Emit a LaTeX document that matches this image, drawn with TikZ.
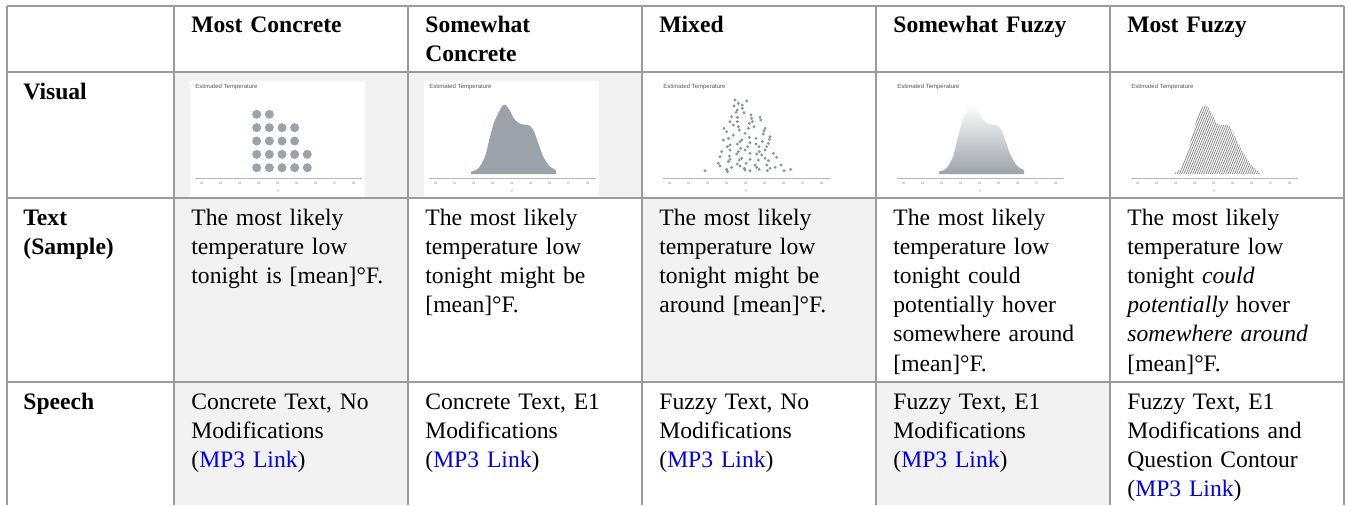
\documentclass[tikz,border=0pt]{standalone}
\usepackage{fontspec}
\setmainfont{Liberation Serif}
\newfontfamily\chartfont{Liberation Sans}
\definecolor{tableline}{HTML}{9B9B9B}
\definecolor{cellgray}{HTML}{F2F2F2}
\definecolor{dotgray}{HTML}{9CA2AA}
\definecolor{scatgray}{HTML}{8E949C}
\definecolor{charttext}{HTML}{555555}
\definecolor{ticktext}{HTML}{888888}
\definecolor{axisgray}{HTML}{B5B5B5}
\definecolor{hatchgray}{HTML}{909090}
\definecolor{linkblue}{RGB}{0,0,238}

\newcommand{\chartframe}[1]{%
  \fill[white] (#1,81) rectangle ({#1+175},197.3);
  \node[charttitle] (title#1) at ({#1+5},88) {Estimated Temperature};
  \draw[axisline] ({#1+5},178) -- ({#1+172},178);
  \foreach \k in {0,...,8}{%
    \pgfmathtruncatemacro{\lab}{30+\k}%
    \node[ticklabel] (tick#1-\k) at ({#1+11.7+19*\k},184.3) {\lab};
  }%
  \node[ticklabel] (unit#1) at ({#1+88},192.3) {°F};
}
\newcommand{\humpshape}[1]{%
  \path[#1] (47,174) -- (47,171.7) -- plot[smooth,tension=0.55] coordinates {(47,171.7) (54.3,168.3) (61,156.7) (66,136.7) (71,120) (79.3,105) (84.3,108.3) (91,120) (97.7,124.3) (104.3,125) (109.3,130) (114.3,143.3) (119.3,156.7) (126,166.7) (132,170)} -- (132,174) -- cycle;
}

\begin{document}
\begin{tikzpicture}[x=0.5pt,y=-0.5pt,
  gridline/.style={draw=tableline,line width=0.75pt},
  celltext/.style={anchor=base west,inner sep=0pt,text width=115pt,align=left,font=\fontsize{11.8}{14.6}\selectfont},
  headtext/.style={anchor=base west,inner sep=0pt,text width=115pt,align=left,font=\fontsize{11.8}{14.6}\selectfont\bfseries},
  charttitle/.style={anchor=base west,inner sep=0pt,font=\chartfont\fontsize{3}{3.6}\selectfont,text=charttext},
  ticklabel/.style={anchor=base,inner sep=0pt,font=\chartfont\fontsize{1.6}{2}\selectfont,text=ticktext},
  axisline/.style={draw=axisgray,line width=0.3pt},
  bigdot/.style={fill=dotgray},
  smalldot/.style={fill=scatgray},
  hatchline/.style={draw=hatchgray,line width=0.4pt}]
\useasboundingbox (0,0) rectangle (1348,505);

% shaded cells
\fill[cellgray] (174,72) rectangle (408,198);
\fill[cellgray] (408,72) rectangle (642,198);
\fill[cellgray] (174,198) rectangle (408,382);
\fill[cellgray] (642,198) rectangle (876,382);
\fill[cellgray] (174,382) rectangle (408,505);
\fill[cellgray] (876,382) rectangle (1110,505);

% chart frames
\chartframe{190}
\chartframe{424}
\chartframe{658}
\chartframe{892}
\chartframe{1126}

% chart 1: dot grid
\foreach \r/\n in {0/2,1/4,2/4,3/5,4/5}{
  \foreach \j in {1,...,\n}{
    \fill[bigdot] ({190+66.7+12.65*(\j-1)},{114.3+13.35*\r}) circle[radius=2.25pt];
  }
}

% chart 2: solid density
\begin{scope}[shift={(424,0)}]
  \humpshape{fill=dotgray}
\end{scope}

% chart 3: scatter
\begin{scope}[shift={(650,80)},x=0.16667pt,y=-0.16667pt]
  \foreach \px/\py in {290/63,265/70,252/78,277/75,277/85,262/90,258/97,303/105,245/110,262/112,305/115,240/125,262/125,330/112,332/120,307/125,298/130,250/135,265/140,222/145,268/150,295/145,345/145,342/152,230/155,285/160,340/162,360/170,318/175,220/180,235/175,275/180,298/172,270/185,358/178,337/185,300/188,355/190,240/195,232/200,262/192,293/200,327/200,350/200,215/215,240/210,265/215,285/210,328/215,345/210,300/220,370/220,238/228,260/222,320/222,335/225,210/230,240/238,275/235,300/238,345/235,380/232,235/245,268/240,325/240,355/242,205/250,262/252,288/250,315/255,350/255,393/255,210/258,245/262,270/258,320/262,360/265,375/262,230/268,283/265,300/272,327/268,232/275,352/272,402/272,422/268,165/272,285/270,255/60,282/98,312/140,250/165,318/192,272/205}{
    \fill[smalldot] (\px,\py) circle[radius=0.8pt];
  }
\end{scope}

% chart 4: gradient density
\begin{scope}[shift={(892,0)}]
  \humpshape{top color=white,bottom color=dotgray}
\end{scope}

% chart 5: hatched density
\begin{scope}[shift={(1126,0)}]
  \begin{scope}
    \clip (48,174) -- plot[smooth,tension=0.5] coordinates {(48,173.3) (55.7,166.7) (64,143.3) (70.7,120) (75.7,107.3) (80.7,105.7) (85.7,113.3) (90.7,123.3) (94,125) (102.3,125) (107.3,133.3) (115.7,150) (124,163.3) (130.7,170) (134,173.3)} -- (134,174) -- cycle;
    \foreach \s in {0,2.2,...,150}{
      \draw[hatchline] ({\s+10},178) -- ({\s+42},100);
    }
  \end{scope}
\end{scope}

% grid lines
\foreach \yy in {6,72,198,382}{
  \draw[gridline] (7,\yy) -- (1344,\yy);
}
\foreach \xx in {7,174,408,642,876,1110,1344}{
  \draw[gridline] (\xx,6) -- (\xx,505);
}

% header
\node[headtext] (h1) at (191,32.5) {Most Concrete};
\node[headtext] (h2) at (425,32.5) {Somewhat\\Concrete};
\node[headtext] (h3) at (659,32.5) {Mixed};
\node[headtext] (h4) at (893,32.5) {Somewhat Fuzzy};
\node[headtext] (h5) at (1127,32.5) {Most Fuzzy};

% row labels
\node[headtext] (rv) at (23,99.3) {Visual};
\node[headtext] (rt) at (23,225) {Text\\(Sample)};
\node[headtext] (rs) at (23,409.3) {Speech};

% text row
\node[celltext] (t1) at (191,225) {The most likely\\temperature low\\tonight is [mean]°F.};
\node[celltext] (t2) at (425,225) {The most likely\\temperature low\\tonight might be\\{}[mean]°F.};
\node[celltext] (t3) at (659,225) {The most likely\\temperature low\\tonight might be\\around [mean]°F.};
\node[celltext] (t4) at (893,225) {The most likely\\temperature low\\tonight could\\potentially hover\\somewhere around\\{}[mean]°F.};
\node[celltext] (t5) at (1127,225) {The most likely\\temperature low\\tonight \textit{could}\\\textit{potentially} hover\\\textit{somewhere around}\\{}[mean]°F.};

% speech row
\node[celltext] (s1) at (191,409.3) {Concrete Text, No\\Modifications\\(\textcolor{linkblue}{MP3 Link})};
\node[celltext] (s2) at (425,409.3) {Concrete Text, E1\\Modifications\\(\textcolor{linkblue}{MP3 Link})};
\node[celltext] (s3) at (659,409.3) {Fuzzy Text, No\\Modifications\\(\textcolor{linkblue}{MP3 Link})};
\node[celltext] (s4) at (893,409.3) {Fuzzy Text, E1\\Modifications\\(\textcolor{linkblue}{MP3 Link})};
\node[celltext] (s5) at (1127,409.3) {Fuzzy Text, E1\\Modifications and\\Question Contour\\(\textcolor{linkblue}{MP3 Link})};
\end{tikzpicture}
\end{document}
